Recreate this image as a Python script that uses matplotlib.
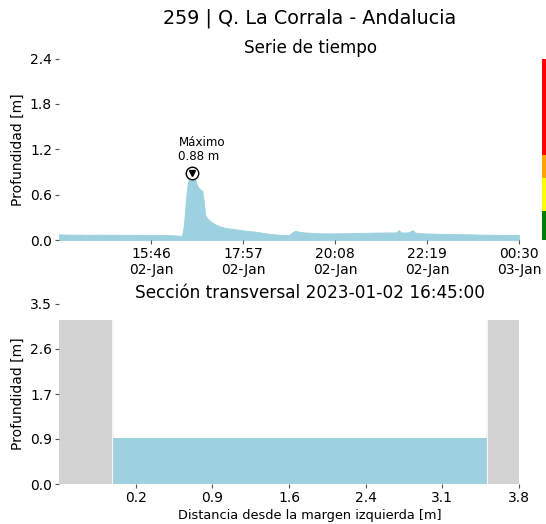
import numpy as np
import pandas as pd
import matplotlib
matplotlib.use("Agg")
import matplotlib.pyplot as plt
import matplotlib.dates as mdates

# ---------------- data ----------------
station_title = "259 | Q. La Corrala - Andalucia"
ts_title = "Serie de tiempo"
section_title = "Sección transversal 2023-01-02 16:45:00"

times = [
    "2023-01-02 13:35", "2023-01-02 13:45", "2023-01-02 13:55", "2023-01-02 14:05",
    "2023-01-02 14:15", "2023-01-02 14:25", "2023-01-02 14:35", "2023-01-02 14:45",
    "2023-01-02 14:55", "2023-01-02 15:05", "2023-01-02 15:15", "2023-01-02 15:25",
    "2023-01-02 15:35", "2023-01-02 15:45", "2023-01-02 15:55", "2023-01-02 16:05",
    "2023-01-02 16:15", "2023-01-02 16:22", "2023-01-02 16:27", "2023-01-02 16:30",
    "2023-01-02 16:31", "2023-01-02 16:33", "2023-01-02 16:35", "2023-01-02 16:37",
    "2023-01-02 16:39", "2023-01-02 16:41", "2023-01-02 16:43", "2023-01-02 16:45",
    "2023-01-02 16:47", "2023-01-02 16:49", "2023-01-02 16:51", "2023-01-02 16:53",
    "2023-01-02 16:56", "2023-01-02 16:59", "2023-01-02 17:01", "2023-01-02 17:03",
    "2023-01-02 17:05", "2023-01-02 17:08", "2023-01-02 17:12", "2023-01-02 17:17",
    "2023-01-02 17:24", "2023-01-02 17:32", "2023-01-02 17:40", "2023-01-02 17:48",
    "2023-01-02 17:55", "2023-01-02 18:05", "2023-01-02 18:15", "2023-01-02 18:25",
    "2023-01-02 18:35", "2023-01-02 18:45", "2023-01-02 18:55", "2023-01-02 19:03",
    "2023-01-02 19:07", "2023-01-02 19:11", "2023-01-02 19:17", "2023-01-02 19:25",
    "2023-01-02 19:35", "2023-01-02 19:45", "2023-01-02 19:55", "2023-01-02 20:05",
    "2023-01-02 20:20", "2023-01-02 20:35", "2023-01-02 20:50", "2023-01-02 21:05",
    "2023-01-02 21:20", "2023-01-02 21:35", "2023-01-02 21:39", "2023-01-02 21:42",
    "2023-01-02 21:52", "2023-01-02 21:59", "2023-01-02 22:02", "2023-01-02 22:10",
    "2023-01-02 22:25", "2023-01-02 22:40", "2023-01-02 22:55", "2023-01-02 23:10",
    "2023-01-02 23:25", "2023-01-02 23:40", "2023-01-02 23:55", "2023-01-03 00:10",
    "2023-01-03 00:30",
]
depth = [
    0.075, 0.072, 0.070, 0.071,
    0.069, 0.070, 0.071, 0.069,
    0.070, 0.069, 0.070, 0.068,
    0.069, 0.067, 0.068, 0.066,
    0.064, 0.060, 0.056, 0.055,
    0.090, 0.220, 0.450, 0.660,
    0.780, 0.830, 0.840, 0.880,
    0.840, 0.800, 0.740, 0.700,
    0.670, 0.650, 0.520, 0.340,
    0.300, 0.270, 0.240, 0.210,
    0.180, 0.160, 0.150, 0.140,
    0.130, 0.120, 0.110, 0.095,
    0.082, 0.072, 0.067, 0.068,
    0.100, 0.120, 0.110, 0.100,
    0.095, 0.090, 0.088, 0.088,
    0.090, 0.092, 0.095, 0.098,
    0.100, 0.100, 0.130, 0.100,
    0.100, 0.130, 0.100, 0.090,
    0.085, 0.082, 0.080, 0.077,
    0.074, 0.071, 0.069, 0.067,
    0.066,
]

# alert thresholds (colour bar on the right)
alert_levels = [0.0, 0.39, 0.82, 1.12, 2.4]
alert_colors = ["green", "yellow", "orange", "red"]

# cross section
section_x = [-0.5, 0.0, 0.0, 3.5, 3.5, 3.8]
section_ground = [3.15, 3.15, 0.0, 0.0, 3.15, 3.15]
water_level = 0.88
section_xticklabels = ["0.2", "0.9", "1.6", "2.4", "3.1", "3.8"]

ts_ymax = 2.4
sec_ymax = 3.45

# ---------------- styling ----------------
water_color = "#9dd1e0"
ground_color = "#d3d3d3"
plt.rcParams["font.family"] = ["DejaVu Sans"]

AX_L, AX_W = 59, 460          # pixel geometry of plotting areas
TITLE_CX = (310 - AX_L) / AX_W  # titles are centred a bit right of axes centre

fig = plt.figure(figsize=(5.46, 5.24), dpi=100)
fig.suptitle(station_title, fontsize=13.8, x=310 / 546, y=0.984)

def style_axes(ax):
    for s in ax.spines.values():
        s.set_visible(False)
    ax.tick_params(axis="both", length=3, width=0.8, color="#555555",
                   labelsize=10, pad=2)

# ---- time series ----
ax1 = fig.add_axes([AX_L / 546, 1 - 240 / 524, AX_W / 546, 181.5 / 524])
t = pd.to_datetime(times)
d = np.array(depth)
ax1.fill_between(t, 0, d, color=water_color, lw=0.6, edgecolor=water_color)
ax1.set_xlim(t[0], t[-1])
ax1.set_ylim(0, ts_ymax)
ax1.set_yticks(np.linspace(0, ts_ymax, 5))
ax1.yaxis.set_major_formatter(matplotlib.ticker.FormatStrFormatter("%.1f"))
tnum = mdates.date2num(t)
ax1.set_xticks(np.linspace(tnum[0], tnum[-1], 6)[1:])
ax1.xaxis.set_major_formatter(mdates.DateFormatter("%H:%M\n%d-%b"))
ax1.set_ylabel("Profundidad [m]", fontsize=10)
ax1.set_title(ts_title, fontsize=12.1, pad=4, x=TITLE_CX)
style_axes(ax1)

imax = int(np.argmax(d))
ax1.plot(t[imax], d[imax], marker="o", ms=9, mfc="white", mec="black", mew=1.0,
         zorder=5)
ax1.plot(t[imax], d[imax], marker="v", ms=4.5, color="black", zorder=6)
ax1.annotate(f"Máximo\n{d[imax]:.2f} m", xy=(t[imax], d[imax]),
             xytext=(-14, 10), textcoords="offset pixels",
             ha="left", va="bottom", fontsize=8.6, linespacing=1.15)

# alert colour bar
axc = fig.add_axes([542 / 546, 1 - 240 / 524, 10 / 546, 181.5 / 524])
for lo, hi, c in zip(alert_levels[:-1], alert_levels[1:], alert_colors):
    axc.bar(0, hi - lo, bottom=lo, width=1, color=c)
axc.set_ylim(0, ts_ymax)
axc.set_xlim(-0.5, 0.5)
axc.axis("off")

# ---- cross section ----
ax2 = fig.add_axes([AX_L / 546, 1 - 484 / 524, AX_W / 546, 180 / 524])
sx = np.array(section_x)
sg = np.array(section_ground)
ax2.fill_between(sx, 0, sg, color=ground_color, lw=0)
wet = (sx >= 0) & (sx <= 3.5)
ax2.fill_between(sx[wet], sg[wet], water_level, color=water_color, lw=0)
ax2.plot(sx[wet], sg[wet], color=ground_color, lw=1)
ax2.plot([0, 0], [0, 3.15], color="white", lw=0.6)
ax2.plot([3.5, 3.5], [0, 3.15], color="white", lw=0.6)
ax2.set_xlim(sx[0], sx[-1])
ax2.set_ylim(0, sec_ymax)
ax2.set_yticks(np.linspace(0, sec_ymax, 5))
ax2.yaxis.set_major_formatter(matplotlib.ticker.FormatStrFormatter("%.1f"))
ax2.set_xticks(np.linspace(sx[0], sx[-1], 7)[1:])
ax2.set_xticklabels(section_xticklabels)
ax2.set_ylabel("Profundidad [m]", fontsize=10)
ax2.set_xlabel("Distancia desde la margen izquierda [m]", fontsize=9.3)
ax2.xaxis.set_label_coords(TITLE_CX, -0.14)
ax2.set_title(section_title, fontsize=12.2, pad=4, x=TITLE_CX)
style_axes(ax2)

fig.savefig("out.png", dpi=100)
